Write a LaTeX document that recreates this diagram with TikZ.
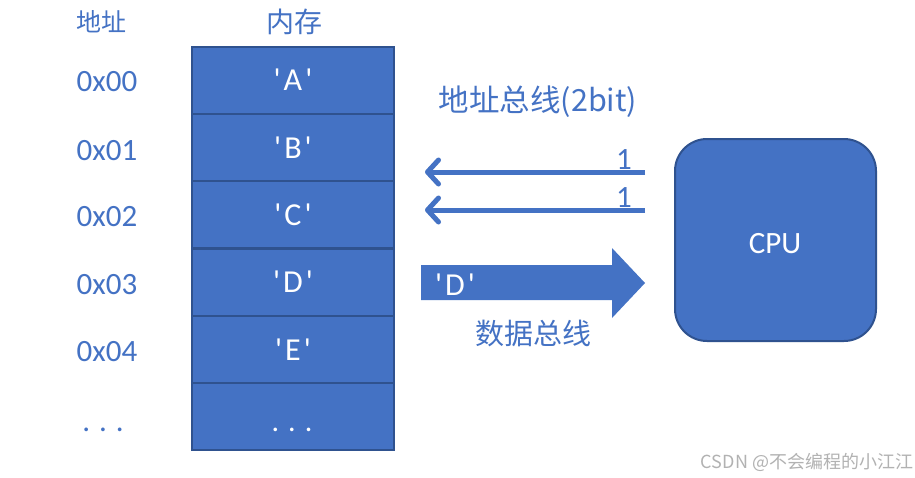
\documentclass[tikz,border=0pt]{standalone}
\usepackage{fontspec}
\setmainfont{Carlito}
\newfontfamily\cjk{Noto Sans CJK SC}
\usetikzlibrary{arrows.meta}
\definecolor{cfill}{HTML}{4472C4}
\definecolor{cline}{HTML}{2F528F}
\definecolor{ctext}{HTML}{4472C4}
\newcommand{\qq}[1]{\textquotesingle\kern3pt#1\kern3pt\textquotesingle}
\newcommand{\sdots}{.\kern9pt.\kern9pt.}
\begin{document}
\begin{tikzpicture}[x=1pt,y=-1pt,
  cell/.style={draw=cline,line width=2pt,fill=cfill,minimum width=202pt,minimum height=67pt,inner sep=0pt,text=white,font=\fontsize{32}{32}\selectfont},
  addr/.style={text=ctext,font=\fontsize{31}{31}\selectfont,inner sep=0pt},
  cjklabel/.style={text=ctext,inner sep=0pt},
  bus/.style={draw=ctext,line width=5pt,-{Straight Barb[length=11pt,width=24pt,line width=5pt,round]}},
]
\useasboundingbox (0,0) rectangle (915,477);
\fill[white] (0,0) rectangle (915,477);
% headers
\node[cjklabel,font=\cjk\fontsize{25}{25}\selectfont] (h1) at (101,22) {地址};
\node[cjklabel,font=\cjk\fontsize{28}{28}\selectfont] (h2) at (294,22) {内存};
% memory cells
\node[cell] (m0) at (293,80) {\qq{A}};
\node[cell] (m1) at (293,147.5) {\qq{B}};
\node[cell] (m2) at (293,214.5) {\qq{C}};
\node[cell] (m3) at (293,282) {\qq{D}};
\node[cell] (m4) at (293,349.5) {\qq{E}};
\node[cell] (m5) at (293,416) {};
\node[text=white,font=\fontsize{30}{30}\selectfont,inner sep=0pt,anchor=base] (m5t) at (292,431) {\sdots};
% addresses
\node[addr] (a0) at (107,82) {0x00};
\node[addr] (a1) at (107,151) {0x01};
\node[addr] (a2) at (107,217) {0x02};
\node[addr] (a3) at (107,285) {0x03};
\node[addr] (a4) at (107,352) {0x04};
\node[addr,anchor=base] (a5) at (103,431) {\sdots};
% CPU
\node[draw=cline,line width=2pt,fill=cfill,rounded corners=32pt,minimum width=201pt,minimum height=202pt,inner sep=0pt] (cpu) at (775.5,240) {};
\node[text=white,font=\fontsize{31}{31}\selectfont,inner sep=0pt] (cput) at (775,244) {CPU};
% address bus
\node[cjklabel,font=\cjk\fontsize{30.5}{30.5}\selectfont] (abl) at (538,102) {地址总线(2bit)};
\coordinate (s1) at (645,172);
\coordinate (e1) at (425,172);
\coordinate (s2) at (645,210);
\coordinate (e2) at (425,210);
\draw[bus] (s1) -- (e1);
\draw[bus] (s2) -- (e2);
\node[addr] (b1) at (624,160) {1};
\node[addr] (b2) at (624,198) {1};
% data bus
\fill[cfill] (421,265) -- (612,265) -- (612,248) -- (645,283) -- (612,318) -- (612,300) -- (421,300) -- cycle;
\node[text=white,font=\fontsize{32}{32}\selectfont,inner sep=0pt] (dd) at (455,285) {\qq{D}};
\node[cjklabel,font=\cjk\fontsize{29}{29}\selectfont] (dbl) at (533,333) {数据总线};
% watermark
\node[text=black!30,font=\cjk\fontsize{18}{18}\selectfont,inner sep=0pt] (wm) at (807,462) {CSDN @不会编程的小江江};
\end{tikzpicture}
\end{document}
